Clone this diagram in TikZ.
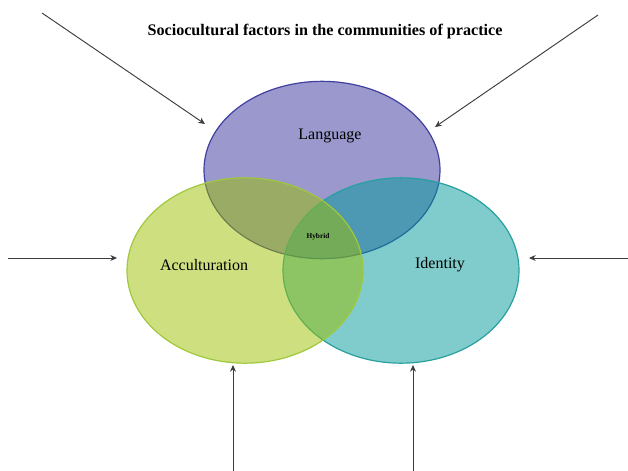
\documentclass[tikz,border=0pt]{standalone}
\usepackage{fontspec}
\setmainfont{Liberation Serif}
\usetikzlibrary{arrows.meta,shapes.geometric}

\definecolor{langfill}{RGB}{53,49,153}
\definecolor{langline}{RGB}{64,64,160}
\definecolor{accfill}{RGB}{155,191,0}
\definecolor{accline}{RGB}{160,200,60}
\definecolor{idfill}{RGB}{1,153,153}
\definecolor{idline}{RGB}{40,160,160}
\definecolor{arrowgray}{RGB}{60,60,60}

\tikzset{
  setcircle/.style={ellipse, inner sep=0pt, line width=0.9pt, fill opacity=0.5},
  label/.style={font=\fontsize{12}{14}\selectfont, text=black},
  arr/.style={draw=arrowgray, line width=0.7pt, -{Stealth[length=5pt,width=4.5pt]}}
}

\begin{document}
\begin{tikzpicture}[x=0.75pt, y=-0.75pt]
  \useasboundingbox (0,0) rectangle (628,471);

  % title
  \node[font=\bfseries\fontsize{12.1}{14}\selectfont] (title) at (325,32)
    {Sociocultural factors in the communities of practice};

  % the three overlapping sets (drawn back to front)
  \node[setcircle, fill=langfill, draw=langline,
        minimum width=177pt, minimum height=133pt] (lang) at (322,170) {};
  \node[setcircle, fill=idfill, draw=idline,
        minimum width=177pt, minimum height=139pt] (ident) at (401,270.5) {};
  \node[setcircle, fill=accfill, draw=accline,
        minimum width=177pt, minimum height=139pt] (accul) at (245,270.5) {};

  % labels
  \node[label] (langtxt) at (330,136) {Language};
  \node[label] (acctxt) at (204,265) {Acculturation};
  \node[label] (idtxt) at (440,265) {Identity};
  \node[font=\bfseries\fontsize{5.5}{6}\selectfont] (hybrid) at (318,237) {Hybrid};

  % arrow ends
  \coordinate (tlstart) at (42,13);
  \coordinate (tlend) at (205,124);
  \coordinate (trstart) at (598,15);
  \coordinate (trend) at (435,127);
  \coordinate (lstart) at (8,258);
  \coordinate (lend) at (117,258);
  \coordinate (rstart) at (628,258);
  \coordinate (rend) at (529,258);
  \coordinate (blstart) at (233,471);
  \coordinate (blend) at (233,365);
  \coordinate (brstart) at (413,471);
  \coordinate (brend) at (413,365);

  % incoming factors
  \draw[arr] (tlstart) -- (tlend);
  \draw[arr] (trstart) -- (trend);
  \draw[arr] (lstart) -- (lend);
  \draw[arr] (rstart) -- (rend);
  \draw[arr] (blstart) -- (blend);
  \draw[arr] (brstart) -- (brend);
\end{tikzpicture}
\end{document}
